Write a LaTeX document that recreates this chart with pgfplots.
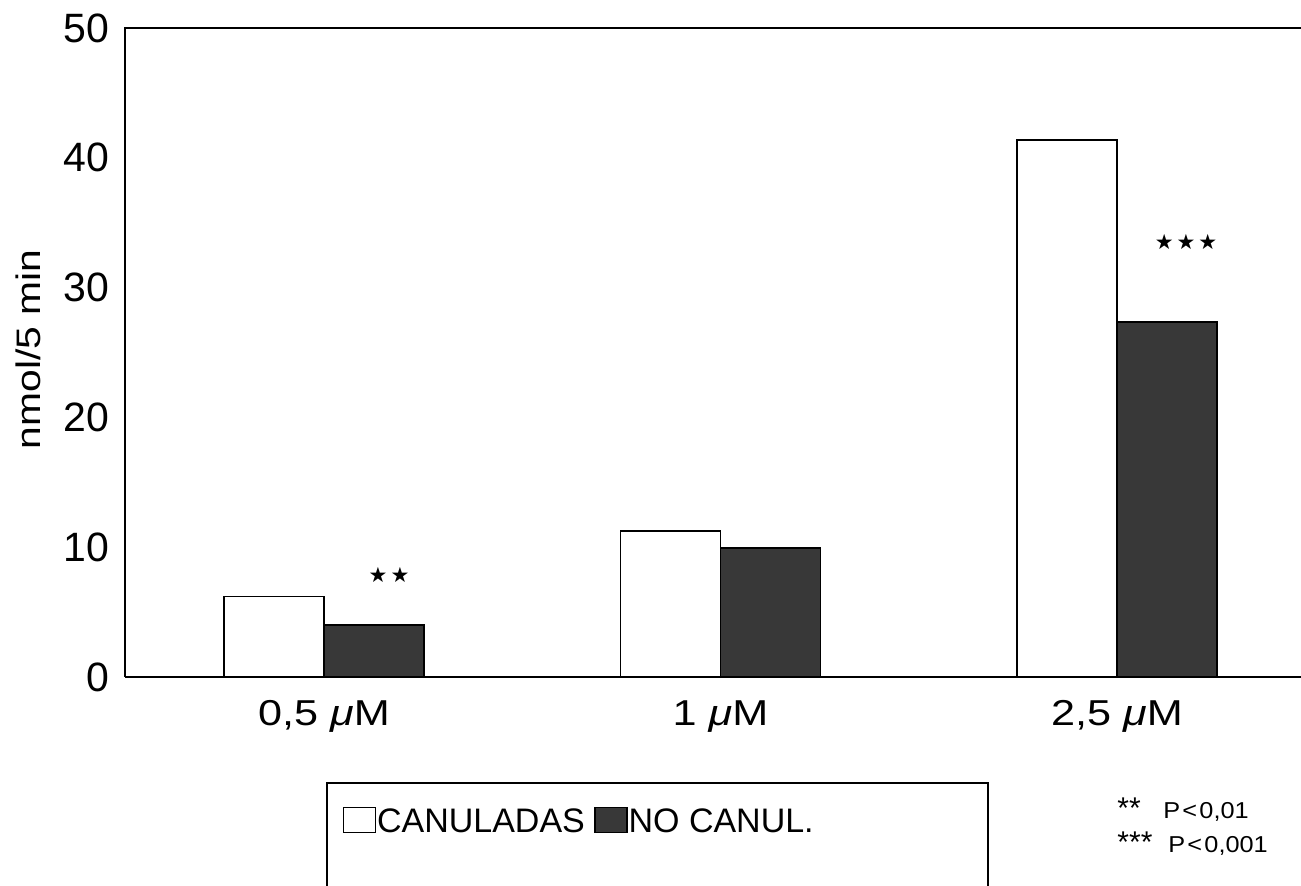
\documentclass[border=0pt]{standalone}
\usepackage{fontspec}
\setmainfont{Liberation Sans}
\newfontfamily\symfont{DejaVu Sans}
\usepackage{graphicx}
\usepackage{pgfplots}
\pgfplotsset{compat=1.18}
\definecolor{darkbar}{gray}{0.22}
\newcommand{\stars}[1]{{\symfont\fontsize{10.5pt}{13pt}\selectfont #1}}
\newcommand{\xl}[1]{\scalebox{1.2}[1]{#1}}
\begin{document}
\begin{tikzpicture}
\useasboundingbox (-62.5pt,-104pt) rectangle (588pt,338.5pt);
\begin{axis}[
  scale only axis,
  width=588pt, height=324.5pt,
  xmin=-0.502, xmax=2.464,
  ymin=0, ymax=50,
  ytick={0,10,20,30,40,50},
  xtick={0,1,2},
  xticklabels={{\xl{0,5 \textit{μ}M}},{\xl{1 \textit{μ}M}},{\xl{2,5 \textit{μ}M}}},
  axis line style={draw=none},
  major tick length=0pt,
  tick style={draw=none},
  /pgf/number format/assume math mode=true,
  yticklabel style={font=\fontsize{20.5pt}{24pt}\selectfont, anchor=east, inner sep=0pt, xshift=-7.5pt},
  xticklabel style={font=\fontsize{18pt}{22pt}\selectfont, anchor=north, inner sep=0pt, yshift=-11.5pt},
  ylabel={\scalebox{1.2}[1]{nmol/5 min}},
  every axis y label/.style={at={(axis description cs:-0.0715,0.505)}, rotate=90, anchor=base, inner sep=0pt, font=\fontsize{17pt}{20pt}\selectfont},
  ybar,
  bar width=50pt,
  legend columns=2,
  legend style={at={(axis description cs:0.185,-0.2204)}, anchor=west, draw=none, fill=none, inner sep=0pt,
    font=\fontsize{17pt}{20pt}\selectfont,
    nodes={inner sep=0.3pt, text depth=0pt},
    /tikz/every even column/.append style={column sep=4.5pt}},
  legend image code/.code={\draw[#1, line width=0.75pt] (0pt,-6pt) rectangle (16pt,6.5pt);},
  clip=false,
]
\addplot[draw=black, fill=white, line width=0.9pt, bar shift=-25pt] coordinates {(0,6.2) (1,11.25) (2,41.4)};
\addplot[draw=black, fill=darkbar, line width=0.9pt, bar shift=25pt] coordinates {(0,4.0) (1,9.95) (2,27.35)};
\legend{CANULADAS, NO CANUL.}
\draw[line width=1pt] (rel axis cs:0,0) -- (rel axis cs:1,0);
\draw[line width=1pt] (rel axis cs:1,1) -- (rel axis cs:0,1) -- (rel axis cs:0,0);
\node at (axis cs:0.164,7.9) {\stars{★\kern1.5pt★}};
\node at (axis cs:2.174,33.5) {\stars{★\kern1.5pt★\kern1.5pt★}};
\end{axis}
\draw[line width=0.75pt] (101pt,-110pt) -- (101pt,-53pt) -- (431.5pt,-53pt) -- (431.5pt,-110pt);
\begin{scope}[every node/.style={anchor=base west, inner sep=0pt, font=\fontsize{11.5pt}{13pt}\selectfont}]
\node at (496pt,-70.5pt) {\fontsize{15pt}{16pt}\selectfont **};
\node at (519pt,-70.5pt) {\scalebox{1.1}[1]{P\kern1pt<\kern1pt0,01}};
\node at (496pt,-87.5pt) {\fontsize{15pt}{16pt}\selectfont ***};
\node at (521.5pt,-87.5pt) {\scalebox{1.1}[1]{P\kern1pt<\kern1pt0,001}};
\end{scope}
\end{tikzpicture}
\end{document}
